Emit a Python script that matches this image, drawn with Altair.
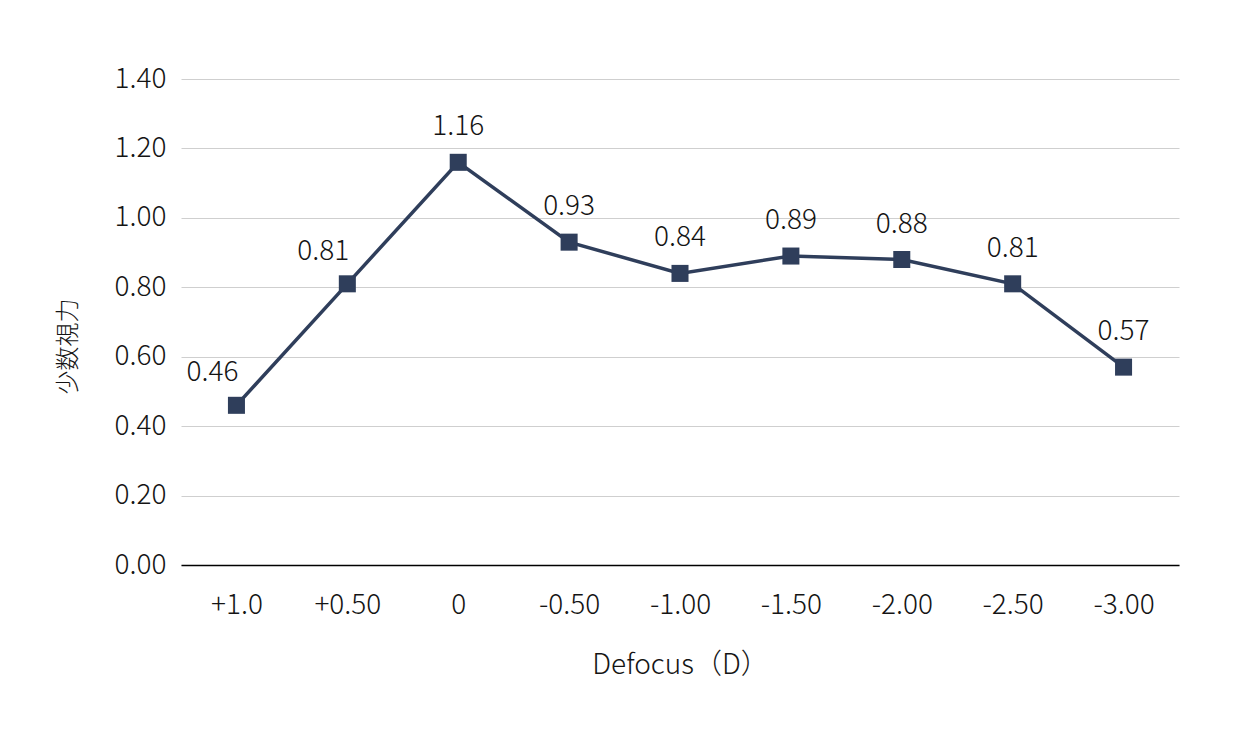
import altair as alt
import pandas as pd

categories = ["+1.0", "+0.50", "0", "-0.50", "-1.00", "-1.50", "-2.00", "-2.50", "-3.00"]
values = [0.46, 0.81, 1.16, 0.93, 0.84, 0.89, 0.88, 0.81, 0.57]

df = pd.DataFrame({"cat": categories, "val": values, "idx": list(range(len(values)))})

FONT = "Noto Sans CJK JP"
COLOR = "#2F3E5B"
TXT = "#141414"
FS = 28
FW = 300

x = alt.X("cat:N", sort=categories, scale=alt.Scale(type="point", padding=0.5),
          axis=alt.Axis(title="Defocus（D）", labelAngle=0, labelFontSize=FS, titleFontSize=FS,
                        labelFont=FONT, titleFont=FONT, labelColor=TXT, titleColor=TXT,
                        labelFontWeight=FW, titleFontWeight=FW, domainColor="#000",
                        domainWidth=1.5, ticks=False, labelPadding=26,
                        titleBaseline="middle", titleY=100, grid=False))
y = alt.Y("val:Q", scale=alt.Scale(domain=[0, 1.4], nice=False),
          axis=alt.Axis(title="少数視力", values=[0, 0.2, 0.4, 0.6, 0.8, 1.0, 1.2, 1.4],
                        format=".2f", labelFontSize=FS, titleFontSize=24, labelFont=FONT,
                        titleFont=FONT, labelColor=TXT, titleColor=TXT,
                        labelFontWeight=FW, titleFontWeight=FW, domain=False, ticks=False,
                        labelPadding=15, gridColor="#CFCFCF", gridWidth=1.2,
                        titleX=-113, titleY=267, titleAlign="center", titleBaseline="middle"))

base = alt.Chart(df)
line = base.mark_line(color=COLOR, strokeWidth=3.5).encode(x=x, y=y)
pts = base.mark_square(color=COLOR, size=290, opacity=1).encode(x=x, y=y)
lab_main = base.transform_filter("datum.idx >= 2").mark_text(
    font=FONT, fontSize=FS, fontWeight=FW, color=TXT, dy=-35, baseline="middle").encode(
    x=x, y=y, text=alt.Text("val:Q", format=".2f"))
lab_left = base.transform_filter("datum.idx < 2").mark_text(
    font=FONT, fontSize=FS, fontWeight=FW, color=TXT, dy=-32, dx=-24, baseline="middle").encode(
    x=x, y=y, text=alt.Text("val:Q", format=".2f"))

chart = alt.layer(line, pts, lab_main, lab_left).properties(
    width=998, height=486,
    autosize=alt.AutoSizeParams(type="none"),
    padding={"left": 173, "top": 71, "right": 54, "bottom": 166},
).configure(background="white").configure_view(stroke=None)

chart.save("out.html", embed_options={"renderer": "svg", "actions": False})
